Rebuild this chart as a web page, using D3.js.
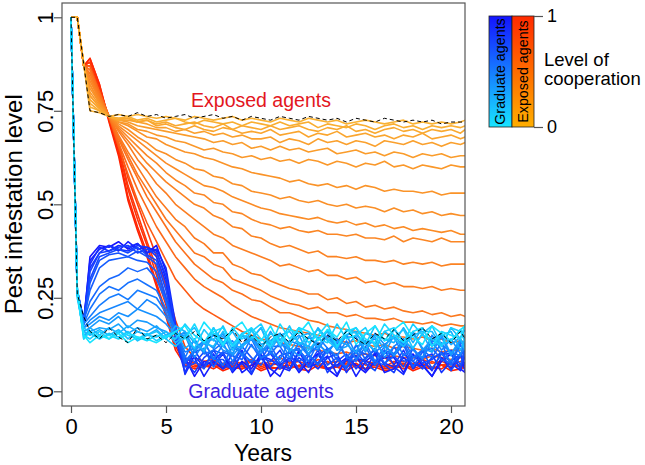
<!DOCTYPE html>
<html><head><meta charset="utf-8">
<script src="https://cdn.jsdelivr.net/npm/d3@7"></script>
<style>body{margin:0;background:#fff}svg{display:block;font-family:"Liberation Sans",Arial,sans-serif}</style>
</head><body><svg id="c" width="645" height="465"></svg>
<script>
const years=[0,0.33,0.67,1,1.5,2,2.5,3,3.5,4,4.5,5,5.5,6,6.5,7,7.5,8,8.5,9,9.5,10,10.5,11,11.5,12,12.5,13,13.5,14,14.5,15,15.5,16,16.5,17,17.5,18,18.5,19,19.5,20,20.5,20.75];
const xTicks=[0,5,10,15,20];
const yTicks=[0,0.25,0.5,0.75,1];
const yTickLabels=["0","0.25","0.5","0.75","1"];
const exposedCoop=[0,.03,.06,.09,.12,.15,.18,.21,.24,.27,.3,.33,.36,.39,.42,.45,.5,.6,.8,.85,.9,.95,1];
const exposedSeries=[
[1,1,.875,.75,.745,.735,.74,.735,.74,.735,.73,.735,.73,.725,.735,.73,.725,.73,.735,.725,.73,.725,.72,.73,.725,.72,.73,.725,.72,.725,.715,.72,.725,.72,.715,.72,.725,.715,.72,.715,.72,.715,.72,.725],
[1,1,.875,.76,.75,.735,.73,.735,.725,.73,.72,.725,.73,.72,.715,.725,.72,.715,.72,.71,.72,.715,.71,.72,.71,.715,.72,.705,.715,.71,.705,.715,.71,.70,.71,.715,.705,.71,.70,.71,.705,.71,.705,.71],
[1,1,.875,.77,.75,.735,.725,.73,.72,.725,.715,.72,.71,.715,.72,.71,.705,.715,.70,.71,.705,.70,.71,.70,.705,.71,.70,.695,.705,.70,.71,.695,.70,.69,.70,.705,.695,.70,.69,.70,.695,.70,.69,.70],
[1,1,.875,.78,.755,.735,.73,.73,.72,.725,.71,.715,.705,.70,.71,.70,.695,.705,.70,.69,.695,.69,.70,.685,.69,.695,.68,.69,.685,.695,.68,.685,.69,.68,.685,.675,.685,.68,.69,.675,.68,.685,.675,.68],
[1,1,.875,.79,.76,.735,.725,.725,.72,.715,.705,.705,.695,.70,.69,.695,.685,.69,.68,.685,.675,.675,.68,.665,.675,.67,.66,.675,.665,.67,.66,.67,.665,.655,.67,.665,.66,.67,.66,.665,.655,.665,.66,.665],
[1,1,.875,.79,.76,.735,.725,.72,.71,.705,.70,.695,.69,.685,.68,.675,.665,.67,.66,.665,.65,.655,.645,.655,.645,.65,.64,.645,.65,.635,.64,.645,.635,.64,.63,.64,.635,.625,.635,.63,.635,.625,.63,.63],
[1,1,.87,.80,.765,.735,.72,.715,.70,.695,.685,.68,.67,.665,.655,.645,.65,.64,.635,.625,.63,.62,.625,.615,.62,.61,.62,.615,.605,.615,.61,.60,.61,.605,.615,.60,.605,.595,.605,.60,.595,.605,.60,.60],
[1,1,.87,.81,.77,.735,.72,.71,.695,.68,.675,.66,.65,.64,.635,.625,.62,.61,.60,.595,.585,.58,.575,.57,.56,.565,.555,.55,.555,.545,.55,.54,.55,.545,.535,.54,.535,.535,.53,.535,.525,.53,.53,.53],
[1,1,.87,.82,.77,.735,.715,.70,.68,.665,.645,.635,.62,.61,.595,.59,.575,.57,.555,.55,.535,.53,.525,.515,.52,.51,.505,.51,.50,.495,.50,.49,.495,.49,.48,.49,.48,.485,.475,.48,.47,.475,.47,.47],
[1,1,.87,.82,.775,.735,.71,.69,.67,.65,.63,.61,.595,.58,.565,.55,.545,.535,.52,.51,.50,.49,.485,.475,.47,.465,.46,.465,.455,.45,.455,.445,.45,.44,.445,.435,.44,.43,.435,.43,.425,.43,.42,.42],
[1,1,.87,.83,.78,.735,.705,.68,.655,.63,.61,.585,.565,.55,.53,.525,.505,.50,.48,.475,.46,.45,.445,.435,.44,.43,.425,.43,.42,.42,.415,.42,.41,.41,.405,.415,.40,.41,.405,.40,.41,.40,.40,.40],
[1,1,.87,.84,.78,.735,.70,.67,.64,.61,.585,.56,.54,.52,.50,.49,.47,.46,.44,.435,.415,.41,.395,.385,.39,.38,.37,.375,.36,.36,.355,.36,.35,.35,.345,.35,.34,.345,.34,.345,.335,.34,.34,.34],
[1,1,.87,.84,.785,.735,.695,.66,.62,.59,.555,.53,.50,.48,.46,.44,.42,.41,.39,.38,.37,.36,.35,.335,.34,.33,.32,.325,.31,.31,.30,.305,.29,.295,.285,.29,.28,.28,.275,.28,.27,.275,.27,.27],
[1,1,.87,.85,.79,.735,.685,.64,.60,.56,.52,.49,.46,.44,.41,.395,.37,.37,.34,.33,.315,.31,.295,.285,.275,.27,.26,.26,.245,.25,.235,.24,.225,.23,.22,.225,.215,.21,.215,.205,.21,.20,.205,.20],
[1,1,.87,.85,.79,.735,.68,.63,.58,.54,.50,.46,.43,.40,.37,.36,.34,.33,.30,.29,.28,.27,.255,.245,.235,.23,.22,.225,.21,.21,.20,.205,.195,.195,.19,.195,.185,.185,.18,.185,.175,.18,.175,.175],
[1,1,.87,.86,.795,.735,.675,.62,.57,.52,.48,.44,.40,.37,.34,.32,.30,.29,.27,.26,.245,.24,.225,.21,.21,.20,.19,.185,.175,.17,.165,.16,.155,.15,.155,.145,.145,.14,.145,.135,.14,.13,.135,.13],
[1,1,.87,.86,.80,.735,.665,.60,.54,.49,.44,.40,.36,.33,.30,.28,.265,.25,.23,.215,.20,.19,.18,.17,.165,.16,.155,.15,.145,.14,.13,.135,.125,.12,.125,.115,.12,.115,.11,.115,.105,.11,.11,.11],
[1,1,.87,.87,.80,.735,.655,.58,.51,.45,.40,.35,.30,.27,.24,.22,.205,.19,.175,.16,.15,.14,.135,.13,.125,.12,.115,.11,.105,.10,.105,.095,.10,.095,.09,.095,.09,.09,.085,.095,.09,.085,.09,.09],
[1,1,.87,.87,.80,.735,.665,.57,.50,.43,.36,.28,.19,.12,.09,.08,.085,.07,.08,.075,.085,.07,.08,.09,.075,.08,.07,.085,.075,.08,.07,.085,.08,.075,.09,.075,.08,.07,.085,.075,.08,.07,.08,.075],
[1,1,.87,.88,.81,.73,.655,.55,.475,.40,.33,.25,.16,.09,.075,.07,.08,.065,.075,.07,.085,.065,.075,.07,.08,.065,.075,.07,.08,.065,.075,.085,.07,.075,.065,.08,.07,.075,.065,.08,.07,.075,.065,.07],
[1,1,.87,.88,.81,.73,.65,.54,.46,.39,.31,.23,.14,.08,.07,.065,.075,.06,.07,.065,.08,.06,.07,.075,.06,.07,.065,.075,.06,.07,.08,.065,.06,.075,.065,.07,.06,.07,.075,.06,.07,.065,.07,.06],
[1,1,.87,.89,.82,.725,.64,.52,.44,.37,.29,.21,.12,.075,.065,.07,.06,.075,.065,.06,.07,.075,.06,.065,.07,.06,.075,.065,.06,.07,.065,.075,.06,.07,.06,.065,.075,.06,.07,.065,.06,.075,.065,.07],
[1,1,.87,.89,.82,.72,.63,.51,.43,.36,.28,.20,.11,.07,.06,.065,.07,.055,.065,.06,.07,.055,.065,.06,.07,.06,.055,.07,.06,.065,.055,.07,.06,.065,.055,.06,.07,.055,.065,.06,.07,.055,.06,.065]
];
const exposedRef=[1,1,.875,.75,.745,.735,.74,.735,.745,.735,.74,.73,.735,.74,.73,.735,.74,.73,.735,.725,.735,.73,.725,.735,.73,.725,.735,.73,.725,.73,.72,.73,.725,.72,.73,.725,.72,.725,.72,.725,.715,.72,.72,.72];
const graduateCoop=[0,.05,.1,.15,.2,.25,.3,.35,.4,.45,.5,.55,.6,.65,.7,.75,.8,.85,.9,.95,1];
const graduateSeries=[
[1,.26,.15,.13,.15,.14,.155,.13,.145,.14,.13,.145,.16,.175,.135,.185,.155,.125,.165,.185,.145,.135,.175,.125,.165,.155,.185,.135,.165,.145,.185,.125,.155,.175,.135,.165,.185,.145,.125,.175,.155,.135,.165,.175],
[1,.27,.14,.16,.145,.15,.14,.155,.145,.135,.15,.145,.155,.14,.18,.13,.16,.17,.12,.15,.17,.14,.12,.18,.14,.17,.13,.15,.18,.12,.16,.17,.14,.13,.18,.15,.13,.16,.17,.12,.16,.15,.14,.18],
[1,.28,.15,.14,.16,.14,.16,.15,.14,.155,.135,.15,.14,.18,.15,.13,.17,.12,.17,.14,.16,.18,.13,.15,.12,.17,.16,.14,.13,.18,.14,.15,.17,.12,.16,.17,.13,.18,.15,.14,.12,.17,.16,.13],
[1,.26,.17,.155,.14,.155,.145,.16,.135,.15,.16,.14,.12,.145,.115,.165,.135,.175,.125,.155,.165,.115,.155,.135,.175,.125,.145,.165,.135,.115,.165,.155,.125,.175,.135,.145,.165,.115,.155,.175,.125,.135,.165,.145],
[1,.25,.16,.15,.165,.15,.165,.14,.16,.15,.145,.16,.13,.15,.17,.13,.12,.16,.11,.15,.14,.17,.12,.15,.13,.17,.11,.14,.16,.12,.15,.17,.13,.11,.16,.14,.12,.15,.16,.16,.12,.17,.14,.11],
[1,.27,.14,.17,.15,.17,.155,.175,.16,.15,.165,.14,.175,.16,.13,.11,.17,.13,.16,.12,.14,.17,.11,.15,.16,.13,.12,.17,.14,.12,.15,.16,.11,.15,.14,.13,.17,.13,.17,.12,.15,.16,.11,.14],
[1,.26,.15,.16,.17,.165,.18,.155,.17,.16,.175,.15,.16,.115,.135,.105,.155,.145,.125,.115,.165,.125,.135,.155,.105,.145,.155,.115,.165,.135,.125,.105,.155,.145,.115,.165,.135,.115,.155,.105,.155,.125,.145,.165],
[1,.27,.16,.17,.19,.18,.20,.17,.19,.185,.17,.16,.14,.16,.11,.13,.15,.12,.10,.15,.14,.11,.16,.12,.13,.15,.10,.14,.16,.11,.12,.15,.13,.13,.10,.15,.12,.16,.11,.14,.15,.10,.14,.12],
[1,.26,.17,.18,.20,.19,.21,.20,.22,.21,.20,.18,.15,.155,.105,.135,.115,.155,.095,.125,.145,.105,.135,.155,.115,.095,.145,.125,.105,.135,.145,.145,.105,.155,.125,.095,.135,.155,.115,.105,.145,.095,.135,.125],
[1,.27,.17,.19,.21,.22,.23,.24,.22,.245,.23,.20,.15,.15,.09,.13,.14,.11,.10,.15,.12,.10,.13,.14,.09,.13,.12,.11,.15,.11,.15,.10,.13,.14,.09,.12,.14,.11,.09,.15,.11,.14,.10,.12],
[1,.26,.18,.20,.23,.25,.26,.245,.27,.26,.25,.21,.16,.105,.115,.135,.085,.125,.135,.095,.145,.115,.105,.085,.135,.125,.095,.145,.115,.095,.135,.085,.135,.105,.125,.145,.095,.115,.085,.135,.125,.105,.095,.145],
[1,.27,.18,.22,.26,.28,.27,.29,.30,.285,.27,.22,.17,.09,.14,.10,.11,.13,.08,.12,.14,.09,.10,.13,.11,.11,.08,.13,.10,.14,.09,.12,.13,.08,.12,.10,.14,.09,.11,.13,.10,.08,.13,.12],
[1,.26,.19,.24,.28,.30,.31,.33,.32,.33,.30,.24,.16,.08,.11,.13,.09,.07,.12,.10,.08,.11,.12,.12,.08,.13,.10,.07,.11,.13,.09,.08,.12,.07,.11,.10,.13,.08,.11,.09,.13,.07,.10,.12],
[1,.27,.19,.27,.33,.35,.355,.36,.35,.345,.32,.24,.15,.075,.105,.115,.065,.105,.095,.085,.125,.085,.125,.075,.105,.115,.065,.095,.115,.085,.065,.125,.085,.115,.075,.095,.125,.065,.105,.115,.085,.075,.125,.095],
[1,.26,.18,.29,.35,.365,.37,.36,.375,.36,.34,.25,.16,.09,.08,.06,.11,.10,.07,.12,.09,.07,.11,.06,.11,.08,.10,.12,.07,.09,.06,.11,.10,.08,.07,.12,.08,.09,.11,.06,.10,.11,.07,.12],
[1,.27,.19,.30,.36,.37,.38,.37,.385,.365,.35,.27,.15,.065,.075,.105,.085,.085,.055,.105,.075,.115,.065,.095,.105,.055,.095,.075,.115,.065,.085,.105,.075,.055,.105,.095,.065,.115,.075,.085,.105,.055,.095,.115],
[1,.26,.18,.32,.37,.375,.385,.39,.37,.38,.37,.31,.17,.08,.05,.09,.11,.07,.06,.10,.05,.09,.08,.11,.06,.09,.07,.11,.05,.08,.10,.06,.09,.11,.07,.05,.10,.08,.06,.09,.10,.10,.06,.11],
[1,.27,.19,.33,.37,.39,.38,.375,.39,.385,.36,.29,.14,.05,.11,.07,.10,.06,.08,.11,.05,.09,.10,.07,.06,.11,.08,.06,.09,.10,.05,.09,.08,.07,.11,.07,.11,.06,.09,.10,.05,.08,.10,.07],
[1,.26,.18,.34,.385,.375,.39,.385,.395,.37,.38,.33,.18,.045,.095,.065,.085,.105,.055,.075,.045,.095,.085,.065,.055,.105,.065,.075,.095,.045,.085,.095,.055,.105,.075,.065,.045,.095,.085,.055,.105,.075,.055,.095],
[1,.26,.19,.35,.38,.39,.375,.40,.38,.385,.375,.30,.15,.08,.09,.04,.08,.06,.10,.05,.07,.09,.06,.04,.09,.08,.05,.10,.06,.07,.09,.04,.08,.10,.05,.06,.09,.07,.07,.04,.09,.06,.10,.05],
[1,.27,.18,.36,.39,.385,.40,.38,.395,.37,.39,.32,.16,.09,.04,.08,.07,.10,.05,.08,.06,.10,.04,.07,.09,.05,.08,.10,.06,.04,.09,.07,.05,.08,.09,.09,.05,.10,.07,.04,.08,.10,.06,.05]
];
const graduateRef=[1,.26,.20,.16,.14,.17,.145,.13,.17,.14,.15,.13,.155,.14,.16,.135,.15,.14,.165,.13,.15,.12,.145,.155,.13,.16,.14,.125,.15,.135,.16,.14,.125,.155,.14,.165,.135,.15,.17,.14,.155,.13,.16,.14];

const svg=d3.select("#c");
const box={l:62,r:465,t:3,b:406};
const x=d3.scaleLinear().domain([0,20]).range([71,451]);
const y=d3.scaleLinear().domain([0,1]).range([391.3,17.3]);
const expColor=d3.scaleLinear().domain([0,1]).range(["#f9b233","#ff2000"]).interpolate(d3.interpolateRgb);
const gradColor=d3.scaleLinear().domain([0,1]).range(["#18e4ff","#1414ff"]).interpolate(d3.interpolateRgb);
const line=d3.line().x((d,i)=>x(years[i])).y(d=>y(d));

svg.append("clipPath").attr("id","clip").append("rect")
  .attr("x",box.l).attr("y",box.t).attr("width",box.r-box.l).attr("height",box.b-box.t);
const g=svg.append("g").attr("clip-path","url(#clip)");

const expIdx=d3.range(exposedSeries.length).reverse();
const gradIdx=d3.range(graduateSeries.length).reverse();
g.selectAll("path.exp").data(expIdx).join("path").attr("class","exp")
  .attr("d",i=>line(exposedSeries[i])).attr("fill","none").attr("stroke",i=>expColor(exposedCoop[i]))
  .attr("stroke-width",1.6).attr("stroke-linejoin","round");
g.selectAll("path.grad").data(gradIdx).join("path").attr("class","grad")
  .attr("d",i=>line(graduateSeries[i])).attr("fill","none").attr("stroke",i=>gradColor(graduateCoop[i]))
  .attr("stroke-width",1.6).attr("stroke-linejoin","round");
[exposedRef,graduateRef].forEach(s=>{
  g.append("path").attr("d",line(s)).attr("fill","none").attr("stroke","#000")
   .attr("stroke-width",1).attr("stroke-dasharray","4,3");
});

svg.append("rect").attr("x",box.l).attr("y",box.t).attr("width",box.r-box.l).attr("height",box.b-box.t)
  .attr("fill","none").attr("stroke","#555").attr("stroke-width",1.2);

const xa=svg.append("g").attr("transform",`translate(0,${box.b})`)
  .call(d3.axisBottom(x).tickValues(xTicks).tickSize(7).tickFormat(d3.format("d")));
xa.select(".domain").remove();
xa.selectAll(".tick line").attr("stroke","#555").attr("stroke-width",1.2);
xa.selectAll(".tick text").attr("font-size",22).attr("fill","#000")
  .attr("font-family","Liberation Sans, Arial, sans-serif").attr("dy",null).attr("y",28);

const ya=svg.append("g").attr("transform",`translate(${box.l},0)`)
  .call(d3.axisLeft(y).tickValues(yTicks).tickSize(8).tickFormat((d,i)=>yTickLabels[i]));
ya.select(".domain").remove();
ya.selectAll(".tick line").attr("stroke","#555").attr("stroke-width",1.2);
ya.selectAll(".tick text").attr("font-size",22).attr("fill","#000")
  .attr("font-family","Liberation Sans, Arial, sans-serif")
  .attr("text-anchor","middle").attr("x",null).attr("dy",null)
  .attr("transform","translate(-9,0) rotate(-90)").attr("y",0);

svg.append("text").attr("x",x(10)+2).attr("y",461).attr("text-anchor","middle")
  .attr("font-size",23).text("Years");
svg.append("text").attr("transform",`translate(22,${y(0.5)}) rotate(-90)`).attr("text-anchor","middle")
  .attr("font-size",24).text("Pest infestation level");

svg.append("text").attr("x",261).attr("y",107).attr("text-anchor","middle")
  .attr("font-size",19.5).attr("fill","#e3161e").text("Exposed agents");
svg.append("text").attr("x",261).attr("y",398).attr("text-anchor","middle")
  .attr("font-size",19.5).attr("fill","#3d1ee0").text("Graduate agents");

const defs=svg.append("defs");
function grad(id,c0,c1){const lg=defs.append("linearGradient").attr("id",id).attr("x1",0).attr("y1",1).attr("x2",0).attr("y2",0);
  lg.append("stop").attr("offset","0%").attr("stop-color",c0);lg.append("stop").attr("offset","100%").attr("stop-color",c1);}
grad("gg",gradColor(0),gradColor(1));
grad("ge","#ffae00","#ff2a00");
const ly=d3.scaleLinear().domain([0,1]).range([127,16]);
svg.append("rect").attr("x",489).attr("y",ly(1)).attr("width",23).attr("height",ly(0)-ly(1)).attr("fill","url(#gg)").attr("stroke","#222").attr("stroke-width",0.8);
svg.append("rect").attr("x",512).attr("y",ly(1)).attr("width",22).attr("height",ly(0)-ly(1)).attr("fill","url(#ge)").attr("stroke","#222").attr("stroke-width",0.8);
svg.append("text").attr("transform",`translate(504.5,${(ly(0)+ly(1))/2}) rotate(-90)`).attr("text-anchor","middle").attr("font-size",14.3).text("Graduate agents");
svg.append("text").attr("transform",`translate(528,${(ly(0)+ly(1))/2}) rotate(-90)`).attr("text-anchor","middle").attr("font-size",14.3).text("Exposed agents");
const la=svg.append("g").attr("transform","translate(534,0)").call(d3.axisRight(ly).tickValues([0,1]).tickSize(9).tickPadding(4).tickFormat(d3.format("d")));
la.select(".domain").remove();
la.selectAll(".tick line").attr("stroke","#555").attr("stroke-width",1.2);
la.selectAll(".tick text").attr("font-size",18).attr("fill","#000").attr("font-family","Liberation Sans, Arial, sans-serif");
svg.append("text").attr("x",544).attr("y",66).attr("font-size",18.5).text("Level of");
svg.append("text").attr("x",544).attr("y",85).attr("font-size",18.5).text("cooperation");
</script></body></html>
